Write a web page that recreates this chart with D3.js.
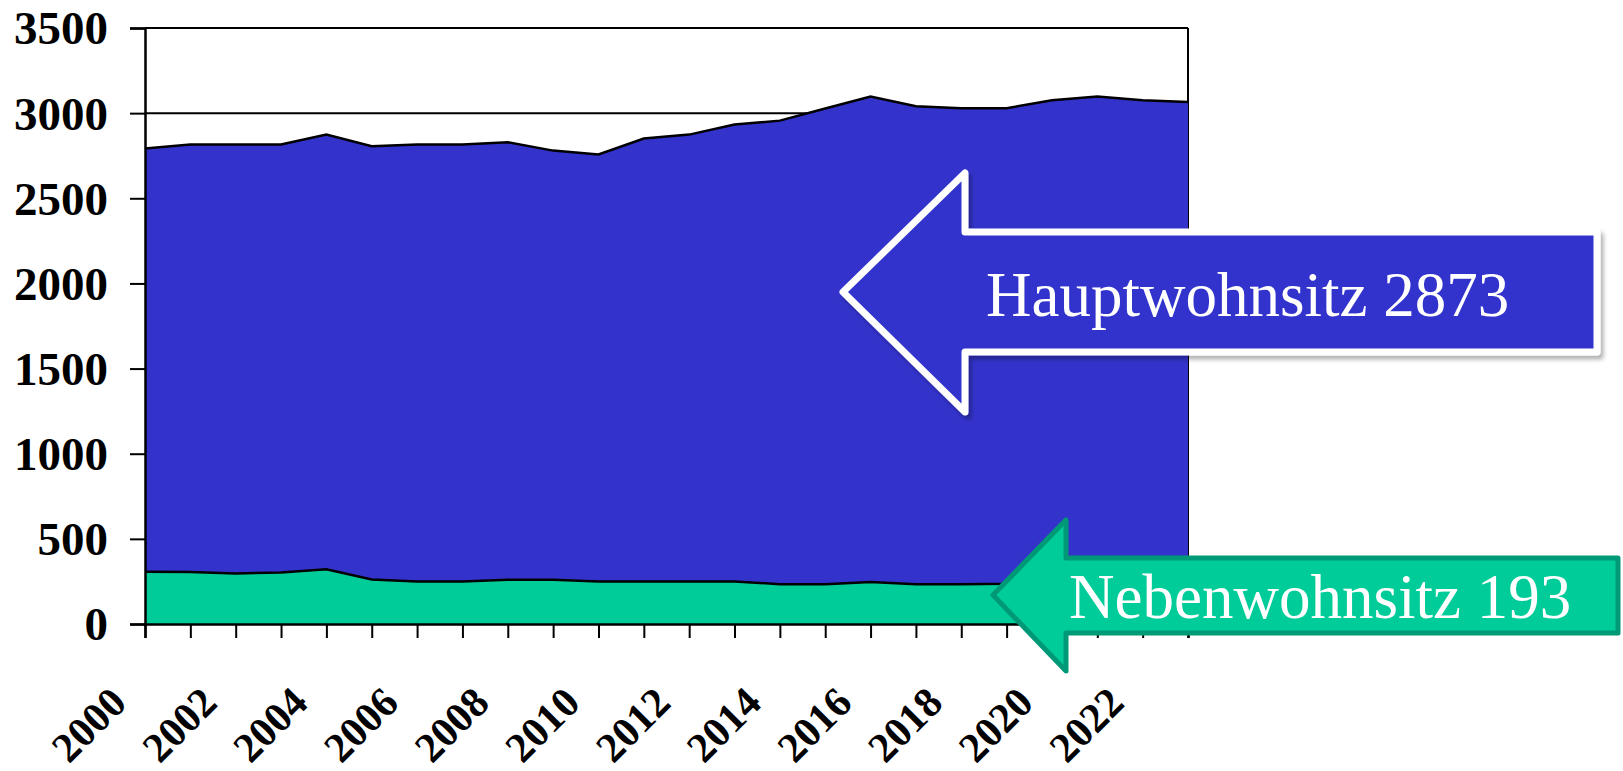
<!DOCTYPE html>
<html>
<head>
<meta charset="utf-8">
<script src="https://cdn.jsdelivr.net/npm/d3@7"></script>
<style>
  body { margin: 0; background: #fff; }
  svg { display: block; }
  .axis text { font-family: "Liberation Serif", "Times New Roman", serif; font-weight: bold; fill: #000; }
  .label { font-family: "Liberation Serif", "Times New Roman", serif; font-size: 63px; fill: #fff; }
</style>
</head>
<body>
<div class="chart"></div>
<script>
// data
var years = d3.range(2000, 2024);
var nebenwohnsitz = [307, 305, 297, 303, 321, 262, 250, 250, 260, 260, 250, 250,
                     250, 250, 234, 234, 246, 234, 234, 236, 245, 210, 200, 193];
var hauptwohnsitz = [2485, 2511, 2519, 2513, 2553, 2544, 2566, 2566, 2569, 2520, 2507, 2601,
                     2624, 2683, 2722, 2793, 2851, 2806, 2795, 2793, 2831, 2887, 2876, 2873];
var yTicks = [0, 500, 1000, 1500, 2000, 2500, 3000, 3500];
var xLabels = [2000, 2002, 2004, 2006, 2008, 2010, 2012, 2014, 2016, 2018, 2020, 2022];

var svgWidth = 1623;
var svgHeight = 771;
var margin = { top: 28, left: 145 };
var width = 1043;
var height = 596;

var svg = d3.select(".chart")
  .append("svg")
  .attr("width", svgWidth)
  .attr("height", svgHeight);

var defs = svg.append("defs");
defs.append("filter")
  .attr("id", "shadow")
  .attr("x", "-10%").attr("y", "-10%").attr("width", "120%").attr("height", "130%")
  .append("feDropShadow")
  .attr("dx", 3).attr("dy", 4).attr("stdDeviation", 2)
  .attr("flood-color", "#000").attr("flood-opacity", 0.3);

var chartGroup = svg.append("g")
  .attr("transform", `translate(${margin.left}, ${margin.top})`);

var x = d3.scaleLinear().domain([2000, 2023]).range([0, width]);
var y = d3.scaleLinear().domain([0, 3500]).range([height, 0]);

// gridlines behind the areas
chartGroup.append("g")
  .selectAll("line")
  .data(yTicks)
  .enter()
  .append("line")
  .attr("x1", 0).attr("x2", width)
  .attr("y1", d => y(d)).attr("y2", d => y(d))
  .attr("stroke", "#000").attr("stroke-width", 2);

chartGroup.append("line")
  .attr("x1", width).attr("x2", width)
  .attr("y1", 0).attr("y2", height)
  .attr("stroke", "#000").attr("stroke-width", 2);

// stacked areas
var rows = years.map((yr, i) => ({ year: yr, neben: nebenwohnsitz[i], haupt: hauptwohnsitz[i] }));
var stack = d3.stack().keys(["neben", "haupt"]);
var series = stack(rows);
var colors = { neben: "#00CC99", haupt: "#3333CC" };

var area = d3.area()
  .x(d => x(d.data.year))
  .y0(d => y(d[0]))
  .y1(d => y(d[1]));
var topLine = d3.line()
  .x(d => x(d.data.year))
  .y(d => y(d[1]));

chartGroup.selectAll(".area")
  .data(series)
  .enter()
  .append("path")
  .attr("class", "area")
  .attr("d", area)
  .attr("fill", d => colors[d.key]);

chartGroup.selectAll(".edge")
  .data(series)
  .enter()
  .append("path")
  .attr("class", "edge")
  .attr("d", topLine)
  .attr("fill", "none")
  .attr("stroke", "#000")
  .attr("stroke-width", 2.5);

// axes
var leftAxis = d3.axisLeft(y).tickValues(yTicks).tickSize(15).tickPadding(22)
  .tickFormat(d3.format("d"));
var bottomAxis = d3.axisBottom(x).tickValues(years).tickSize(14)
  .tickFormat(d => xLabels.indexOf(d) >= 0 ? d : "");

var yAxisG = chartGroup.append("g").attr("class", "axis").call(leftAxis);
yAxisG.select(".domain").attr("stroke-width", 2.5);
yAxisG.selectAll(".tick line").attr("stroke-width", 2);
yAxisG.selectAll("text").attr("dy", "0.34em").style("font-size", "47px");

var xAxisG = chartGroup.append("g")
  .attr("class", "axis")
  .attr("transform", `translate(0, ${height})`)
  .call(bottomAxis);
xAxisG.select(".domain").attr("stroke-width", 2.5);
xAxisG.selectAll(".tick line").attr("stroke-width", 2);
xAxisG.selectAll("text")
  .attr("x", 0).attr("y", 0).attr("dy", 0)
  .attr("text-anchor", "end")
  .style("font-size", "42px")
  .attr("transform", "translate(-17, 81) rotate(-45)");

// arrow annotations
var n = years.length - 1;
var hauptArrow = [[843, 292], [965, 173], [965, 232], [1597, 232], [1597, 352], [965, 352], [965, 412]];
var nebenArrow = [[993, 595], [1066, 520], [1066, 558], [1618, 558], [1618, 633], [1066, 633], [1066, 671]];
var arrowLine = d3.line().curve(d3.curveLinearClosed);

svg.append("path")
  .attr("d", arrowLine(hauptArrow))
  .attr("fill", "#3333CC")
  .attr("stroke", "#fff")
  .attr("stroke-width", 7)
  .attr("stroke-linejoin", "round")
  .attr("filter", "url(#shadow)");

svg.append("text")
  .attr("class", "label")
  .attr("x", 986).attr("y", 316)
  .text("Hauptwohnsitz " + hauptwohnsitz[n]);

svg.append("path")
  .attr("d", arrowLine(nebenArrow))
  .attr("fill", "#00CC99")
  .attr("stroke", "#009977")
  .attr("stroke-width", 5)
  .attr("stroke-linejoin", "round");

svg.append("text")
  .attr("class", "label")
  .attr("x", 1069).attr("y", 618)
  .text("Nebenwohnsitz " + nebenwohnsitz[n]);
</script>
</body>
</html>
